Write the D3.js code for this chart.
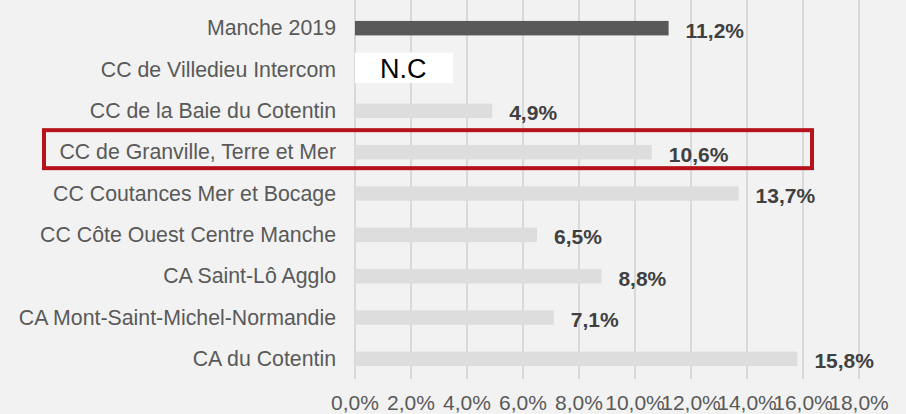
<!DOCTYPE html>
<html>
<head>
<meta charset="utf-8">
<script src="https://d3js.org/d3.v7.min.js"></script>
<style>
  html, body { margin: 0; padding: 0; background: #f2f2f2; }
  svg { display: block; font-family: "Liberation Sans", Arial, sans-serif; }
</style>
</head>
<body>
<div id="chart"></div>
<script>
var categories = [
    "Manche 2019",
    "CC de Villedieu Intercom",
    "CC de la Baie du Cotentin",
    "CC de Granville, Terre et Mer",
    "CC Coutances Mer et Bocage",
    "CC Côte Ouest Centre Manche",
    "CA Saint-Lô Agglo",
    "CA Mont-Saint-Michel-Normandie",
    "CA du Cotentin"
];
var values = [11.2, null, 4.9, 10.6, 13.7, 6.5, 8.8, 7.1, 15.8];
var tickValues = [0, 2, 4, 6, 8, 10, 12, 14, 16, 18];
var missingLabel = "N.C";
var highlighted = "CC de Granville, Terre et Mer";

function init(){
    var w = 906;
    var h = 414;

    var locale = d3.formatLocale({decimal: ",", thousands: " ", grouping: [3], currency: ["", " €"]});
    var fmt = locale.format(".1f");

    var x = d3.scaleLinear()
              .domain([0, 18])
              .range([355, 859]);
    var y = d3.scaleBand()
              .domain(categories)
              .range([7.5, 379.5])
              .paddingInner(0.65)
              .paddingOuter(0.325);

    var svg = d3.select("#chart")
                .append("svg")
                .attr("width", w)
                .attr("height", h);

    //Gridlines
    svg.selectAll("line.grid")
       .data(tickValues)
       .enter()
       .append("line")
       .attr("class", "grid")
       .attr("x1", function(d) { return x(d); })
       .attr("x2", function(d) { return x(d); })
       .attr("y1", 0)
       .attr("y2", 379)
       .attr("stroke", "#d9d9d9")
       .attr("stroke-width", 2);

    //Tick labels
    svg.selectAll("text.tick")
       .data(tickValues)
       .enter()
       .append("text")
       .attr("class", "tick")
       .attr("x", function(d) { return x(d); })
       .attr("y", 410)
       .attr("text-anchor", "middle")
       .attr("fill", "#595959")
       .style("font-size", "21px")
       .text(function(d) { return fmt(d) + "%"; });

    //Category labels
    svg.selectAll("text.cat")
       .data(categories)
       .enter()
       .append("text")
       .attr("class", "cat")
       .attr("x", 336)
       .attr("y", function(d) { return y(d) + y.bandwidth() / 2; })
       .attr("dy", "0.33em")
       .attr("text-anchor", "end")
       .attr("fill", "#595959")
       .style("font-size", "21.3px")
       .text(function(d) { return d; });

    var rows = categories.map(function(c, i) { return {cat: c, value: values[i], first: i === 0}; });

    //Bars
    svg.selectAll("rect.bar")
       .data(rows.filter(function(d) { return d.value !== null; }))
       .enter()
       .append("rect")
       .attr("class", "bar")
       .attr("x", x(0))
       .attr("y", function(d) { return y(d.cat); })
       .attr("width", function(d) { return x(d.value) - x(0); })
       .attr("height", y.bandwidth())
       .attr("fill", function(d) { return d.first ? "#595959" : "#dddddd"; });

    //Value labels
    svg.selectAll("text.val")
       .data(rows.filter(function(d) { return d.value !== null; }))
       .enter()
       .append("text")
       .attr("class", "val")
       .attr("x", function(d) { return x(d.value) + 17; })
       .attr("y", function(d) { return y(d.cat) + y.bandwidth() / 2; })
       .attr("dy", "0.45em")
       .attr("fill", "#404040")
       .style("font-size", "21px")
       .style("font-weight", "bold")
       .text(function(d) { return fmt(d.value) + "%"; });

    //Missing data box
    var missing = rows.filter(function(d) { return d.value === null; });
    var step = y.step();
    svg.selectAll("rect.nc")
       .data(missing)
       .enter()
       .append("rect")
       .attr("class", "nc")
       .attr("x", x(0))
       .attr("y", function(d) { return y(d.cat) + y.bandwidth() / 2 - step * 0.41; })
       .attr("width", x(3.5) - x(0))
       .attr("height", step * 0.74)
       .attr("fill", "#ffffff");
    svg.selectAll("text.nc")
       .data(missing)
       .enter()
       .append("text")
       .attr("class", "nc")
       .attr("x", x(0) + 25)
       .attr("y", function(d) { return y(d.cat) + y.bandwidth() / 2; })
       .attr("dy", "0.32em")
       .attr("fill", "#000000")
       .style("font-size", "27px")
       .text(missingLabel);

    //Highlight frame
    svg.append("rect")
       .attr("x", 44)
       .attr("y", y(highlighted) + y.bandwidth() / 2 - 22)
       .attr("width", 768)
       .attr("height", 38)
       .attr("fill", "none")
       .attr("stroke", "#b5121b")
       .attr("stroke-width", 4);
}
window.onload = init;
</script>
</body>
</html>
